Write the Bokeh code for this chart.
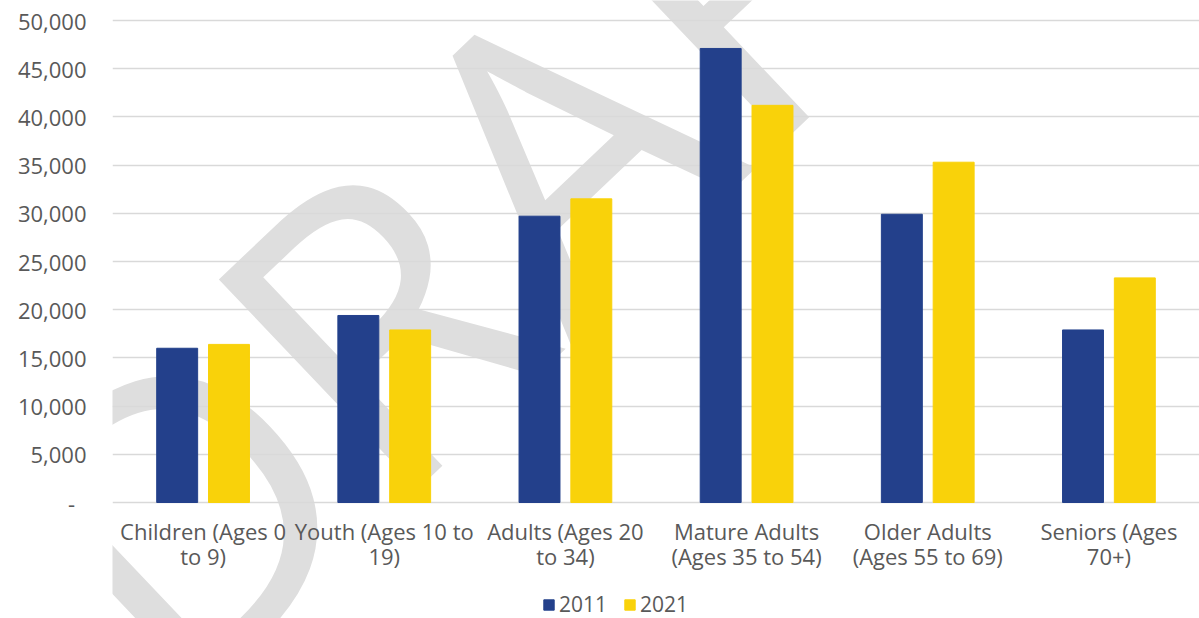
from bokeh.plotting import figure
from bokeh.models import (FactorRange, Range1d, ColumnDataSource, Legend, LegendItem,
                          Label, FixedTicker, NumeralTickFormatter)
from bokeh.transform import dodge
from bokeh.embed import file_html
from bokeh.resources import INLINE

# ---- data ----
categories = [
    "Children (Ages 0\nto 9)",
    "Youth (Ages 10 to\n19)",
    "Adults (Ages 20\nto 34)",
    "Mature Adults\n(Ages 35 to 54)",
    "Older Adults\n(Ages 55 to 69)",
    "Seniors (Ages\n70+)",
]
series_names = ["2011", "2021"]
values_2011 = [16000, 19400, 29700, 47100, 29900, 17900]
values_2021 = [16400, 17900, 31500, 41200, 35300, 23300]
y_ticks = [0, 5000, 10000, 15000, 20000, 25000, 30000, 35000, 40000, 45000, 50000]
y_tick_labels = ["-", "5,000", "10,000", "15,000", "20,000", "25,000",
                 "30,000", "35,000", "40,000", "45,000", "50,000"]

BLUE = "#23408B"
YELLOW = "#F9D20A"
TEXT = "#595959"
GRID = "#D9D9D9"
FONT = "Open Sans"

# layout: data area 0..50000 spans 482 px; 20 px above, 116 px below
PX_PER_UNIT = 482 / 50000
y_lo = -116 / PX_PER_UNIT
y_hi = 50000 + 20 / PX_PER_UNIT

src = ColumnDataSource(dict(cat=categories, v2011=values_2011, v2021=values_2021))

p = figure(x_range=FactorRange(*categories), y_range=Range1d(y_lo, y_hi),
           width=1199, height=618, output_backend="svg", toolbar_location=None,
           min_border_left=112, min_border_right=0, min_border_top=0,
           min_border_bottom=0)
p.outline_line_color = None
p.background_fill_color = None
p.border_fill_color = "white"

# watermark
wm = Label(x=2.22, y=33400, x_units="data", y_units="data",
           text="DRAFT", angle=0.76, text_align="center", text_baseline="alphabetic",
           text_font=FONT, text_font_size="405px", text_color="#DEDEDE",
           level="image")
p.add_layout(wm)

r1 = p.vbar(x=dodge("cat", -0.143, range=p.x_range), top="v2011", width=0.226,
            bottom=0, source=src, fill_color=BLUE, line_color=BLUE)
r2 = p.vbar(x=dodge("cat", 0.143, range=p.x_range), top="v2021", width=0.226,
            bottom=0, source=src, fill_color=YELLOW, line_color=YELLOW)

# axes
p.xgrid.grid_line_color = None
p.ygrid.grid_line_color = GRID
p.ygrid.grid_line_width = 1.6
p.yaxis.ticker = FixedTicker(ticks=y_ticks)
p.yaxis.formatter = NumeralTickFormatter(format="0,0")
overrides = {t: l for t, l in zip(y_ticks, y_tick_labels)}
overrides[0] = "-\u00a0\u00a0"
p.yaxis.major_label_overrides = overrides
p.xaxis.fixed_location = 0
for ax in (p.xaxis[0], p.yaxis[0]):
    ax.axis_line_color = None
    ax.major_tick_line_color = None
    ax.minor_tick_line_color = None
    ax.major_tick_out = 0
    ax.major_tick_in = 0
    ax.major_label_text_font = FONT
    ax.major_label_text_font_size = "22px"
    ax.major_label_text_color = TEXT
p.yaxis.major_label_standoff = 26
p.xaxis.major_label_standoff = 13
p.xaxis.major_label_text_line_height = 0.85

legend = Legend(items=[LegendItem(label=series_names[0], renderers=[r1]),
                       LegendItem(label=series_names[1], renderers=[r2])],
                orientation="horizontal", location=(430, 0),
                border_line_color=None, background_fill_alpha=0,
                glyph_width=13, glyph_height=13, label_standoff=4, spacing=16,
                padding=0, margin=0, label_text_font=FONT,
                label_text_font_size="21px", label_text_color=TEXT,
                label_height=13)
p.add_layout(legend)

open("out.html", "w").write(file_html(p, INLINE))
